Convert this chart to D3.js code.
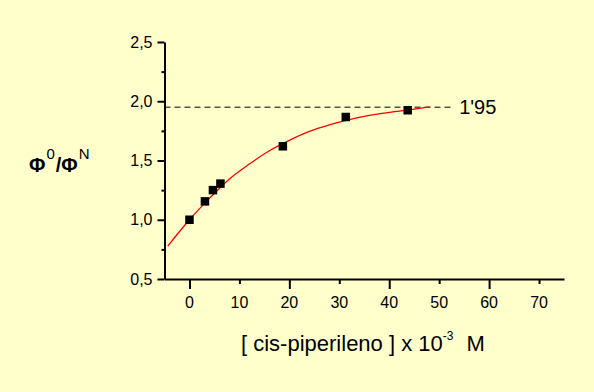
<!DOCTYPE html>
<html><head><meta charset="utf-8">
<script src="https://cdn.jsdelivr.net/npm/d3@7"></script>
<style>
html,body{margin:0;padding:0;background:#ffffcc;}
svg{display:block;}
text{font-family:Arial,"Liberation Sans",sans-serif;fill:#000;}
</style></head>
<body>
<script>
// measured points
const conc = [0, 3.1, 4.7, 6.2, 18.7, 31.3, 43.7];
const ratio = [1.00, 1.155, 1.25, 1.305, 1.62, 1.867, 1.924];
// fitted curve
const fitX = [-4.35, 0, 4, 8, 12, 16, 20, 24, 28, 32, 36, 40, 44, 48.1];
const fitY = [0.778, 1.0, 1.18, 1.344, 1.47, 1.582, 1.67, 1.745, 1.800, 1.845, 1.880, 1.906, 1.928, 1.952];
// plateau line
const plateauValue = 1.95;
const plateauEnd = 52.6;
const plateauLabel = "1'95";
// ticks
const xTickLabels = [0, 10, 20, 30, 40, 50, 60, 70];
const xMajor = [0, 20, 40, 60];
const xMinor = [10, 30, 50, 70];
const yMajor = [0.5, 1.0, 1.5, 2.0, 2.5];
const yMinor = [0.75, 1.25, 1.75, 2.25];

const W = 594, H = 392;
const svg = d3.select("body").append("svg").attr("width", W).attr("height", H);
svg.append("rect").attr("width", W).attr("height", H).attr("fill", "#ffffcc");

const x = d3.scaleLinear().domain([-5, 75]).range([164.5, 564]);
const y = d3.scaleLinear().domain([0.5, 2.5]).range([279, 42]);
const fmt = d => d3.format(".1f")(d).replace(".", ",");

// y axis
const yg = svg.append("g").attr("transform", `translate(${x(-5)},0)`);
yg.call(d3.axisLeft(y).tickValues(yMajor).tickSize(7).tickPadding(5).tickSizeOuter(0).tickFormat(fmt));
yg.append("g").call(d3.axisLeft(y).tickValues(yMinor).tickSize(3).tickSizeOuter(0).tickFormat(""))
  .select(".domain").remove();
// x axis
const xg = svg.append("g").attr("transform", `translate(0,${y(0.5)})`);
xg.call(d3.axisBottom(x).tickValues(xMajor).tickSize(10).tickSizeOuter(0).tickFormat(""));
xg.append("g").call(d3.axisBottom(x).tickValues(xMinor).tickSize(5).tickSizeOuter(0).tickFormat(""))
  .select(".domain").remove();
xg.append("g").selectAll("text").data(xTickLabels).join("text")
  .attr("x", d => x(d)).attr("y", 29).attr("text-anchor", "middle")
  .style("font-size", "16px").text(d => d);

svg.selectAll(".domain").attr("stroke", "#000").attr("stroke-width", 2);
svg.selectAll(".tick line").attr("stroke", "#000").attr("stroke-width", 2);
yg.selectAll(".tick text").style("font-size", "16px").attr("font-family", null);

// plateau dashed line
svg.append("line")
  .attr("x1", x(-5)).attr("x2", x(plateauEnd))
  .attr("y1", y(plateauValue)).attr("y2", y(plateauValue))
  .attr("stroke", "#000").attr("stroke-width", 1).attr("stroke-dasharray", "6,4");
svg.append("text").attr("x", x(plateauEnd) + 7).attr("y", y(plateauValue) + 7)
  .style("font-size", "20px").text(plateauLabel);

// fit curve
const fit = fitX.map((v, i) => [v, fitY[i]]);
svg.append("path").datum(fit)
  .attr("d", d3.line().x(d => x(d[0])).y(d => y(d[1])).curve(d3.curveMonotoneX))
  .attr("fill", "none").attr("stroke", "#ff0000").attr("stroke-width", 1.3);

// points
const pts = conc.map((v, i) => [v, ratio[i]]);
const s = 8.5;
svg.append("g").selectAll("rect").data(pts).join("rect")
  .attr("x", d => x(d[0]) - s / 2).attr("y", d => y(d[1]) - s / 2)
  .attr("width", s).attr("height", s).attr("fill", "#000");

// y title
const yt = svg.append("text").attr("x", 29).attr("y", 172);
yt.append("tspan").style("font-size", "20px").style("font-weight", "bold").text("Φ");
yt.append("tspan").style("font-size", "15px").attr("dx", 1).attr("dy", -13).text("0");
yt.append("tspan").style("font-size", "20px").style("font-weight", "bold").attr("dx", 1).attr("dy", 13).text("/Φ");
yt.append("tspan").style("font-size", "15px").attr("dx", 1).attr("dy", -13).text("N");

// x title
const xt = svg.append("text").attr("x", 241).attr("y", 351);
xt.append("tspan").style("font-size", "22px").text("[ cis-piperileno ] x 10");
xt.append("tspan").style("font-size", "12px").attr("dy", -11).text("-3");
xt.append("tspan").style("font-size", "22px").attr("dx", 13).attr("dy", 11).text("M");
</script>
</body></html>
